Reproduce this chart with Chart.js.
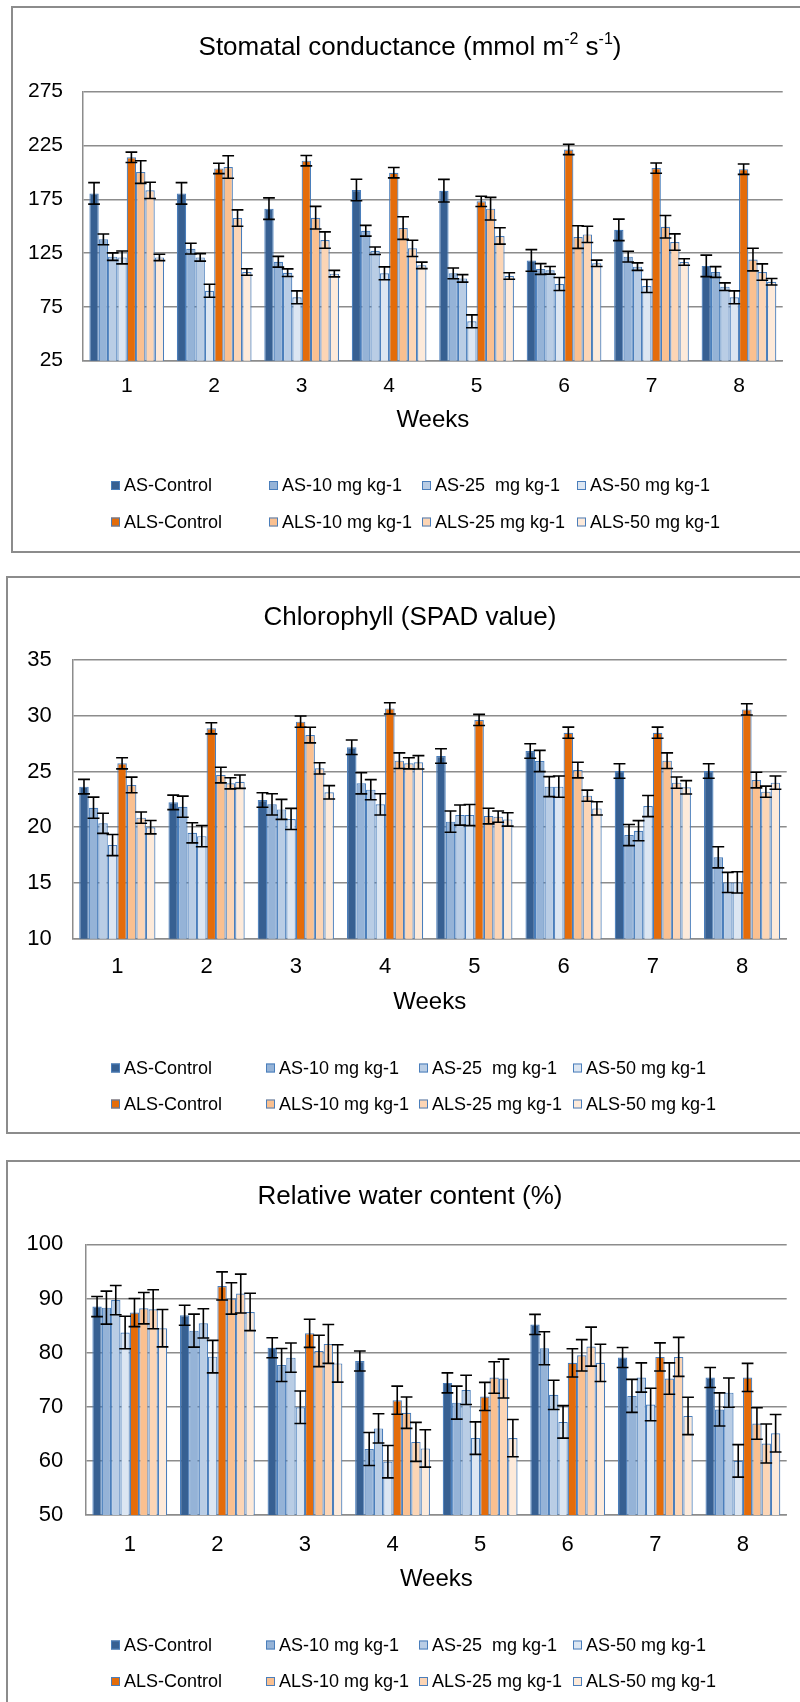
<!DOCTYPE html>
<html><head><meta charset="utf-8">
<script src="https://cdn.jsdelivr.net/npm/chart.js@4.4.1/dist/chart.umd.min.js"></script>
<style>
html,body{margin:0;padding:0;background:#fff;width:800px;height:1702px;overflow:hidden;position:relative;font-family:"Liberation Sans",Arial,sans-serif;}
.frame{position:absolute;border:2px solid #8c8c8c;box-sizing:border-box;}
canvas{position:absolute;left:0;}
</style></head><body>
<div class="frame" style="left:11px;top:6px;width:900px;height:547px"></div>
<div class="frame" style="left:6px;top:576px;width:900px;height:558px"></div>
<div class="frame" style="left:6px;top:1160px;width:900px;height:600px"></div>
<canvas id="c1" width="800" height="545" style="top:7px"></canvas>
<canvas id="c2" width="800" height="556" style="top:577px"></canvas>
<canvas id="c3" width="800" height="541" style="top:1161px"></canvas>
<script>
// ---- shared categories / series ----
const weeks = ['1','2','3','4','5','6','7','8'];
const seriesLabels = ['AS-Control','AS-10 mg kg-1','AS-25  mg kg-1','AS-50 mg kg-1','ALS-Control','ALS-10 mg kg-1','ALS-25 mg kg-1','ALS-50 mg kg-1'];
const seriesColors = ['#376092','#95B3D7','#B9CDE5','#DCE6F2','#E46C0A','#FAC090','#FCD5B5','#FDEADA'];

// ---- Stomatal conductance ----
const gsASControl  = [180.5, 180.5, 166.3, 183.6, 183.0, 118.2, 146.6, 113.1];
const gsAS10       = [137.8, 129.1, 117.0, 145.8, 106.2, 110.2, 121.7, 107.4];
const gsAS25       = [121.7, 121.0, 106.8, 127.2, 101.5, 109.0, 112.4, 93.8];
const gsAS50       = [121.0, 90.0, 83.9, 106.2, 61.6, 96.3, 94.4, 83.9];
const gsALSControl = [214.0, 203.7, 210.9, 199.7, 173.1, 221.3, 204.0, 203.0];
const gsALS10      = [200.3, 205.0, 157.9, 148.3, 166.3, 139.9, 149.5, 119.0];
const gsALS25      = [183.3, 157.6, 137.1, 129.4, 140.9, 142.4, 135.3, 107.4];
const gsALS50      = [121.0, 107.4, 105.9, 113.6, 103.7, 115.5, 116.7, 98.4];
const gsErrASControl  = [10, 10, 10, 10, 10.5, 10, 10, 10];
const gsErrAS10       = [5, 5, 5, 5, 5, 5, 5, 5];
const gsErrAS25       = [3.5, 3.5, 3.5, 3.5, 3.5, 3.5, 3.5, 3.5];
const gsErrAS50       = [6, 6, 6, 6, 6, 6, 6, 6];
const gsErrALSControl = [4.8, 4.8, 4.8, 4.8, 4.8, 4.8, 4.8, 4.8];
const gsErrALS10      = [10.5, 10.5, 10.5, 10.5, 10.5, 10.5, 10.5, 10.5];
const gsErrALS25      = [7.6, 7.6, 7.6, 7.6, 7.6, 7.6, 7.6, 7.6];
const gsErrALS50      = [3, 3, 3, 3, 3, 3, 3, 3];
const gsTicks = [25, 275, 50];

// ---- Chlorophyll (SPAD) ----
const chlASControl  = [23.64, 22.23, 22.44, 27.17, 26.39, 26.84, 25.04, 25.04];
const chlAS10       = [21.75, 21.84, 22.05, 23.94, 20.50, 25.94, 19.30, 17.30];
const chlAS25       = [20.35, 19.50, 21.60, 23.37, 21.09, 23.64, 19.69, 15.05];
const chlAS50       = [18.40, 19.20, 20.74, 22.05, 21.09, 23.64, 21.90, 15.05];
const chlALSControl = [25.73, 28.87, 29.47, 30.66, 29.62, 28.48, 28.48, 30.57];
const chlALS10      = [23.79, 24.68, 28.27, 25.97, 21.00, 25.13, 25.97, 24.23];
const chlALS25      = [20.86, 23.94, 25.28, 25.73, 20.95, 22.83, 24.00, 23.19];
const chlALS50      = [20.00, 24.08, 23.13, 25.82, 20.70, 21.69, 23.58, 24.00];
const chlErrASControl  = [0.65, 0.65, 0.65, 0.65, 0.65, 0.65, 0.65, 0.65];
const chlErrAS10       = [0.95, 0.95, 0.95, 0.95, 0.95, 0.95, 0.95, 0.95];
const chlErrAS25       = [0.9, 0.9, 0.9, 0.9, 0.9, 0.9, 0.9, 0.9];
const chlErrAS50       = [0.95, 0.95, 0.95, 0.95, 0.95, 0.95, 0.95, 0.95];
const chlErrALSControl = [0.5, 0.5, 0.5, 0.5, 0.5, 0.5, 0.5, 0.5];
const chlErrALS10      = [0.7, 0.7, 0.7, 0.7, 0.7, 0.7, 0.7, 0.7];
const chlErrALS25      = [0.5, 0.5, 0.5, 0.5, 0.5, 0.5, 0.5, 0.5];
const chlErrALS50      = [0.6, 0.6, 0.6, 0.6, 0.6, 0.6, 0.6, 0.6];
const chlTicks = [10, 35, 5];

// ---- Relative water content ----
const rwcASControl  = [88.5, 86.9, 80.9, 78.45, 74.4, 85.2, 79.1, 75.4];
const rwcAS10       = [88.3, 84.05, 77.7, 62.2, 70.75, 80.8, 72.0, 69.5];
const rwcAS25       = [89.7, 85.4, 79.06, 66.0, 73.1, 72.2, 75.4, 72.6];
const rwcAS50       = [83.7, 79.25, 69.9, 59.85, 64.2, 67.2, 70.4, 60.0];
const rwcALSControl = [87.4, 92.3, 83.56, 71.2, 71.9, 78.1, 79.2, 75.4];
const rwcALS10      = [88.2, 90.0, 80.3, 68.9, 75.4, 79.5, 75.2, 66.9];
const rwcALS25      = [88.0, 90.9, 81.6, 63.5, 75.2, 81.1, 79.2, 63.2];
const rwcALS50      = [84.5, 87.5, 78.0, 62.3, 64.2, 78.1, 68.3, 65.1];
const rwcErrASControl  = [1.85, 1.85, 1.85, 1.85, 1.85, 1.85, 1.85, 1.85];
const rwcErrAS10       = [3.05, 3.05, 3.05, 3.05, 3.05, 3.05, 3.05, 3.05];
const rwcErrAS25       = [2.7, 2.7, 2.7, 2.7, 2.7, 2.7, 2.7, 2.7];
const rwcErrAS50       = [3.0, 3.0, 3.0, 3.0, 3.0, 3.0, 3.0, 3.0];
const rwcErrALSControl = [2.6, 2.6, 2.6, 2.6, 2.6, 2.6, 2.6, 2.6];
const rwcErrALS10      = [2.9, 2.9, 2.9, 2.9, 2.9, 2.9, 2.9, 2.9];
const rwcErrALS25      = [3.6, 3.6, 3.6, 3.6, 3.6, 3.6, 3.6, 3.6];
const rwcErrALS50      = [3.45, 3.45, 3.45, 3.45, 3.45, 3.45, 3.45, 3.45];
const rwcTicks = [50, 100, 10];

const xAxisTitle = 'Weeks';

// ---- drawing ----
const FONT = '"Liberation Sans", Arial, sans-serif';
Chart.defaults.font.family = FONT;
Chart.defaults.color = '#000';

const decor = {
  id: 'decor',
  afterDatasetsDraw(chart, args, o) {
    const ctx = chart.ctx, ys = chart.scales.y;
    ctx.save();
    ctx.strokeStyle = '#000';
    ctx.lineWidth = 1.6;
    chart.data.datasets.forEach((ds, di) => {
      const meta = chart.getDatasetMeta(di);
      meta.data.forEach((bar, i) => {
        const v = ds.data[i], e = ds.errors[i];
        const y1 = ys.getPixelForValue(v + e), y2 = ys.getPixelForValue(v - e);
        const hw = bar.width / 2 + 1.2;
        ctx.beginPath();
        ctx.moveTo(bar.x, y1); ctx.lineTo(bar.x, y2);
        ctx.moveTo(bar.x - hw, y1); ctx.lineTo(bar.x + hw, y1);
        ctx.moveTo(bar.x - hw, y2); ctx.lineTo(bar.x + hw, y2);
        ctx.stroke();
      });
    });
    ctx.restore();
  },
  afterDraw(chart, args, o) {
    const ctx = chart.ctx, ca = chart.chartArea;
    ctx.save();
    ctx.fillStyle = '#000';
    ctx.textBaseline = 'middle';
    // title with optional superscripts
    const big = o.titleSize + 'px ' + FONT, small = Math.round(o.titleSize * 0.62) + 'px ' + FONT;
    let total = 0;
    o.title.forEach(p => { ctx.font = p.sup ? small : big; total += ctx.measureText(p.t).width; });
    let x = o.titleX - total / 2;
    ctx.textAlign = 'left';
    o.title.forEach(p => {
      ctx.font = p.sup ? small : big;
      ctx.fillText(p.t, x, o.titleY - (p.sup ? o.titleSize * 0.33 : 0));
      x += ctx.measureText(p.t).width;
    });
    // axis title
    ctx.font = o.axisSize + 'px ' + FONT;
    ctx.textAlign = 'center';
    ctx.fillText(xAxisTitle, (ca.left + ca.right) / 2, o.axisY);
    // legend
    ctx.font = o.legendSize + 'px ' + FONT;
    ctx.textAlign = 'left';
    chart.data.datasets.forEach((ds, i) => {
      const lx = o.legendX[i % 4], ly = o.legendY[Math.floor(i / 4)];
      ctx.fillStyle = ds.backgroundColor;
      ctx.fillRect(lx, ly - 4.5, 9, 9);
      ctx.strokeStyle = '#4a7ebb';
      ctx.lineWidth = 1;
      ctx.strokeRect(lx + 0.5, ly - 4, 8, 8);
      ctx.fillStyle = '#000';
      ctx.fillText(ds.label, lx + 13, ly + 1);
    });
    ctx.restore();
  }
};

function makeChart(id, series, errs, ticks, g) {
  const canvas = document.getElementById(id);
  const H = canvas.height, W = canvas.width;
  const datasets = series.map((d, i) => ({
    label: seriesLabels[i],
    data: d,
    errors: errs[i],
    backgroundColor: seriesColors[i],
    borderColor: '#4a7ebb',
    borderWidth: 1.2,
    categoryPercentage: 0.854,
    barPercentage: 1.0
  }));
  return new Chart(canvas, {
    type: 'bar',
    data: { labels: weeks, datasets },
    plugins: [decor],
    options: {
      responsive: false,
      animation: false,
      devicePixelRatio: 1,
      layout: { padding: { left: 0, top: g.top, right: W - g.right, bottom: 0 } },
      plugins: {
        legend: { display: false },
        title: { display: false },
        tooltip: { enabled: false },
        decor: g.decor
      },
      scales: {
        x: {
          grid: { display: false, drawTicks: false },
          border: { display: true, color: '#8c8c8c', width: 1.5 },
          ticks: { font: { size: g.tickSize }, color: '#000', padding: g.xPad, maxRotation: 0 },
          afterFit: s => { s.height = H - g.bottom; }
        },
        y: {
          min: ticks[0], max: ticks[1],
          grid: { color: '#8c8c8c', lineWidth: 1.5, drawTicks: false },
          border: { display: true, color: '#8c8c8c', width: 1.5 },
          ticks: { stepSize: ticks[2], font: { size: g.tickSize }, color: '#000', padding: g.yPad },
          afterFit: s => { s.width = g.left; }
        }
      }
    }
  });
}

makeChart('c1',
  [gsASControl, gsAS10, gsAS25, gsAS50, gsALSControl, gsALS10, gsALS25, gsALS50],
  [gsErrASControl, gsErrAS10, gsErrAS25, gsErrAS50, gsErrALSControl, gsErrALS10, gsErrALS25, gsErrALS50],
  gsTicks,
  { left: 83, right: 782.7, top: 84.7, bottom: 353.7, tickSize: 21, xPad: 12.5, yPad: 20,
    decor: { title: [{t:'Stomatal conductance (mmol m'},{t:'-2',sup:true},{t:' s'},{t:'-1',sup:true},{t:')'}],
      titleSize: 26, titleX: 410, titleY: 41, axisSize: 24, axisY: 413,
      legendSize: 18, legendX: [111, 269, 422, 577], legendY: [478.5, 515] } });

makeChart('c2',
  [chlASControl, chlAS10, chlAS25, chlAS50, chlALSControl, chlALS10, chlALS25, chlALS50],
  [chlErrASControl, chlErrAS10, chlErrAS25, chlErrAS50, chlErrALSControl, chlErrALS10, chlErrALS25, chlErrALS50],
  chlTicks,
  { left: 72.7, right: 786.7, top: 83, bottom: 361.7, tickSize: 22, xPad: 15, yPad: 21,
    decor: { title: [{t:'Chlorophyll (SPAD value)'}],
      titleSize: 26, titleX: 410, titleY: 41, axisSize: 24, axisY: 425,
      legendSize: 18, legendX: [111, 266, 419, 573], legendY: [491, 527] } });

makeChart('c3',
  [rwcASControl, rwcAS10, rwcAS25, rwcAS50, rwcALSControl, rwcALS10, rwcALS25, rwcALS50],
  [rwcErrASControl, rwcErrAS10, rwcErrAS25, rwcErrAS50, rwcErrALSControl, rwcErrALS10, rwcErrALS25, rwcErrALS50],
  rwcTicks,
  { left: 86, right: 786.7, top: 83.3, bottom: 354, tickSize: 22, xPad: 16.5, yPad: 22.7,
    decor: { title: [{t:'Relative water content (%)'}],
      titleSize: 26, titleX: 410, titleY: 36, axisSize: 24, axisY: 418.5,
      legendSize: 18, legendX: [111, 266, 419, 573], legendY: [484, 520.5] } });
</script>
</body></html>
